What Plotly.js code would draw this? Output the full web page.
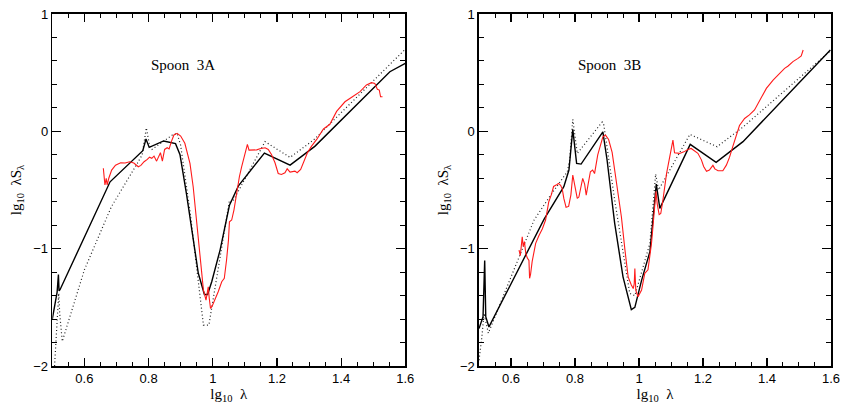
<!DOCTYPE html>
<html>
<head>
<meta charset="utf-8">
<script src="https://cdn.plot.ly/plotly-3.0.1.min.js"></script>
<style>html,body{margin:0;padding:0;background:#fff;}#chart{width:841px;height:405px;}</style>
</head>
<body>
<div id="chart"></div>
<script>
// ---------- Panel A (Spoon 3A) ----------
const aSolidX = [0.500,0.515,0.519,0.521,0.524,0.680,0.782,0.792,0.802,0.847,0.884,0.898,0.918,0.939,0.955,0.974,0.984,0.997,1.023,1.052,1.080,1.161,1.241,1.318,1.552,1.600];
const aSolidY = [-1.60,-1.37,-1.22,-1.36,-1.35,-0.43,-0.165,-0.065,-0.137,-0.082,-0.105,-0.20,-0.53,-0.93,-1.21,-1.39,-1.39,-1.28,-1.01,-0.63,-0.465,-0.185,-0.288,-0.128,0.508,0.580];

const aDotX = [0.507,0.514,0.520,0.523,0.531,0.600,0.684,0.765,0.780,0.793,0.803,0.811,0.874,0.889,0.900,0.930,0.955,0.971,0.988,1.052,1.062,1.163,1.241,1.314,1.600];
const aDotY = [-2.00,-1.65,-1.38,-1.55,-1.79,-1.18,-0.643,-0.273,-0.20,0.03,-0.12,-0.154,-0.031,-0.017,-0.12,-0.70,-1.25,-1.651,-1.651,-0.59,-0.60,-0.088,-0.222,-0.074,0.700];

const aRedX = [0.659,0.664,0.668,0.671,0.676,0.685,0.697,0.713,0.727,0.741,0.754,0.768,0.776,0.786,0.796,0.803,0.810,0.817,0.825,0.832,0.837,0.843,0.850,0.858,0.864,0.871,0.879,0.889,0.900,0.913,0.929,0.939,0.950,0.960,0.971,0.979,0.983,0.986,0.989,0.993,0.998,1.007,1.017,1.028,1.036,1.043,1.049,1.052,1.059,1.066,1.075,1.083,1.090,1.100,1.108,1.113,1.121,1.137,1.147,1.163,1.173,1.183,1.194,1.204,1.214,1.225,1.232,1.241,1.256,1.263,1.274,1.284,1.295,1.308,1.324,1.345,1.365,1.386,1.412,1.433,1.459,1.479,1.495,1.505,1.513,1.519,1.523,1.529];
const aRedY = [-0.315,-0.457,-0.400,-0.457,-0.400,-0.330,-0.288,-0.268,-0.270,-0.259,-0.270,-0.302,-0.290,-0.259,-0.239,-0.220,-0.230,-0.211,-0.254,-0.211,-0.182,-0.254,-0.154,-0.140,-0.150,-0.088,-0.031,-0.017,-0.040,-0.102,-0.273,-0.472,-0.785,-1.097,-1.353,-1.438,-1.380,-1.325,-1.420,-1.509,-1.490,-1.438,-1.367,-1.282,-1.253,-1.097,-0.927,-0.770,-0.756,-0.671,-0.501,-0.387,-0.302,-0.188,-0.111,-0.160,-0.158,-0.158,-0.149,-0.140,-0.154,-0.197,-0.268,-0.359,-0.367,-0.353,-0.319,-0.347,-0.339,-0.353,-0.325,-0.254,-0.183,-0.126,-0.069,0.020,0.060,0.170,0.252,0.290,0.338,0.395,0.415,0.409,0.358,0.352,0.295,0.295];

// ---------- Panel B (Spoon 3B) ----------
const bSolidX = [0.500,0.5125,0.5177,0.521,0.531,0.703,0.765,0.781,0.793,0.805,0.819,0.887,0.900,0.914,0.924,0.950,0.976,0.987,1.008,1.034,1.054,1.065,1.160,1.241,1.325,1.598];
const bSolidY = [-1.68,-1.58,-1.10,-1.58,-1.667,-0.75,-0.472,-0.330,0.017,-0.273,-0.279,-0.005,-0.24,-0.53,-0.784,-1.24,-1.52,-1.50,-1.27,-1.026,-0.449,-0.657,-0.111,-0.264,-0.088,0.693];

const bDotX = [0.500,0.509,0.5156,0.521,0.529,0.672,0.724,0.776,0.783,0.793,0.807,0.885,0.890,0.924,0.971,0.987,1.013,1.034,1.052,1.061,1.159,1.244,1.326,1.600];
const bDotY = [-1.95,-1.75,-1.55,-1.62,-1.72,-0.756,-0.543,-0.344,-0.25,0.102,-0.188,0.079,0.054,-0.587,-1.381,-1.40,-1.155,-0.955,-0.364,-0.50,-0.026,-0.131,0.039,0.690];

const bRedX = [0.625,0.629,0.635,0.638,0.642,0.646,0.651,0.656,0.658,0.661,0.666,0.671,0.677,0.687,0.698,0.708,0.718,0.726,0.733,0.741,0.748,0.755,0.760,0.765,0.772,0.780,0.787,0.793,0.799,0.807,0.812,0.817,0.824,0.830,0.835,0.841,0.848,0.855,0.861,0.871,0.880,0.887,0.895,0.905,0.916,0.926,0.937,0.945,0.956,0.966,0.976,0.982,0.985,0.987,0.990,0.997,1.008,1.018,1.028,1.034,1.039,1.044,1.049,1.053,1.057,1.063,1.068,1.074,1.086,1.098,1.106,1.111,1.127,1.140,1.153,1.163,1.174,1.184,1.195,1.202,1.211,1.220,1.231,1.237,1.247,1.262,1.273,1.283,1.293,1.305,1.314,1.330,1.345,1.361,1.377,1.398,1.419,1.440,1.455,1.466,1.481,1.497,1.507,1.513];
const bRedY = [-1.012,-1.060,-0.898,-0.980,-0.940,-1.040,-1.080,-1.100,-1.253,-1.220,-1.110,-1.030,-0.955,-0.890,-0.830,-0.756,-0.600,-0.540,-0.470,-0.458,-0.444,-0.460,-0.490,-0.572,-0.648,-0.640,-0.543,-0.372,-0.460,-0.572,-0.560,-0.490,-0.401,-0.450,-0.543,-0.450,-0.344,-0.330,-0.360,-0.200,-0.103,-0.047,-0.032,-0.070,-0.180,-0.360,-0.586,-0.730,-1.010,-1.240,-1.310,-1.340,-1.300,-1.170,-1.355,-1.410,-1.353,-1.210,-1.180,-1.070,-0.955,-0.800,-0.600,-0.510,-0.620,-0.710,-0.700,-0.600,-0.360,-0.188,-0.075,-0.182,-0.188,-0.175,-0.154,-0.146,-0.165,-0.187,-0.243,-0.300,-0.340,-0.330,-0.290,-0.320,-0.336,-0.336,-0.288,-0.220,-0.130,-0.020,0.050,0.110,0.140,0.182,0.267,0.366,0.437,0.494,0.537,0.557,0.594,0.622,0.642,0.693];

const panelLabels = ['Spoon\u00a0\u00a03A', 'Spoon\u00a0\u00a03B'];
const xTitle = 'lg<sub>10</sub>\u00a0\u00a0\u03bb';
const yTitle = 'lg<sub>10</sub>\u00a0\u00a0\u03bbS<sub>\u03bb</sub>';

const solid = {color:'#000', width:1.4};
const dotted = {color:'#222', width:1.2, dash:'1px,2.5px'};
const red = {color:'#ff1a1a', width:1.1};

const traces = [
  {x:aDotX, y:aDotY, xaxis:'x', yaxis:'y', mode:'lines', line:dotted},
  {x:aSolidX, y:aSolidY, xaxis:'x', yaxis:'y', mode:'lines', line:solid},
  {x:aRedX, y:aRedY, xaxis:'x', yaxis:'y', mode:'lines', line:red},
  {x:bDotX, y:bDotY, xaxis:'x2', yaxis:'y2', mode:'lines', line:dotted},
  {x:bSolidX, y:bSolidY, xaxis:'x2', yaxis:'y2', mode:'lines', line:solid},
  {x:bRedX, y:bRedY, xaxis:'x2', yaxis:'y2', mode:'lines', line:red}
];

const tickFont = {family:'Liberation Sans, Arial, sans-serif', size:13, color:'#000'};
const titleFont = {family:'Liberation Serif, Times New Roman, serif', size:15, color:'#000'};

function xAxis(dom, anchor){
  return {domain:dom, anchor:anchor, range:[0.5,1.6], tick0:0, dtick:0.2, ticks:'inside', ticklen:8, tickwidth:1.2,
    tickcolor:'#000', showline:true, linecolor:'#000', linewidth:1.6, mirror:'allticks', showgrid:false, zeroline:false,
    tickfont:tickFont, minor:{dtick:0.05, tick0:0, ticks:'inside', ticklen:4, tickwidth:1, tickcolor:'#000', showgrid:false},
    title:{text:xTitle, font:titleFont, standoff:2}};
}
function yAxis(anchor){
  return {domain:[0.0963,0.9654], anchor:anchor, range:[-2,1], tick0:0, dtick:1, ticks:'inside', ticklen:9, tickwidth:1.2,
    tickcolor:'#000', showline:true, linecolor:'#000', linewidth:1.6, mirror:'allticks', showgrid:false, zeroline:false,
    tickfont:tickFont, minor:{dtick:0.2, tick0:0, ticks:'inside', ticklen:5, tickwidth:1, tickcolor:'#000', showgrid:false},
    title:{text:yTitle, font:titleFont, standoff:8}};
}

const layout = {
  width:841, height:405, margin:{l:0,r:0,t:0,b:0}, showlegend:false,
  paper_bgcolor:'#fff', plot_bgcolor:'#fff',
  xaxis:xAxis([0.0622,0.4819],'y'), yaxis:yAxis('x'),
  xaxis2:xAxis([0.5696,0.9881],'y2'), yaxis2:yAxis('x2'),
  annotations:[
    {text:panelLabels[0], xref:'x domain', yref:'y domain', x:0.37, y:0.855, showarrow:false, font:titleFont, xanchor:'center', yanchor:'middle'},
    {text:panelLabels[1], xref:'x2 domain', yref:'y2 domain', x:0.37, y:0.855, showarrow:false, font:titleFont, xanchor:'center', yanchor:'middle'}
  ]
};

Plotly.newPlot('chart', traces, layout, {staticPlot:true, displayModeBar:false});
</script>
</body>
</html>
